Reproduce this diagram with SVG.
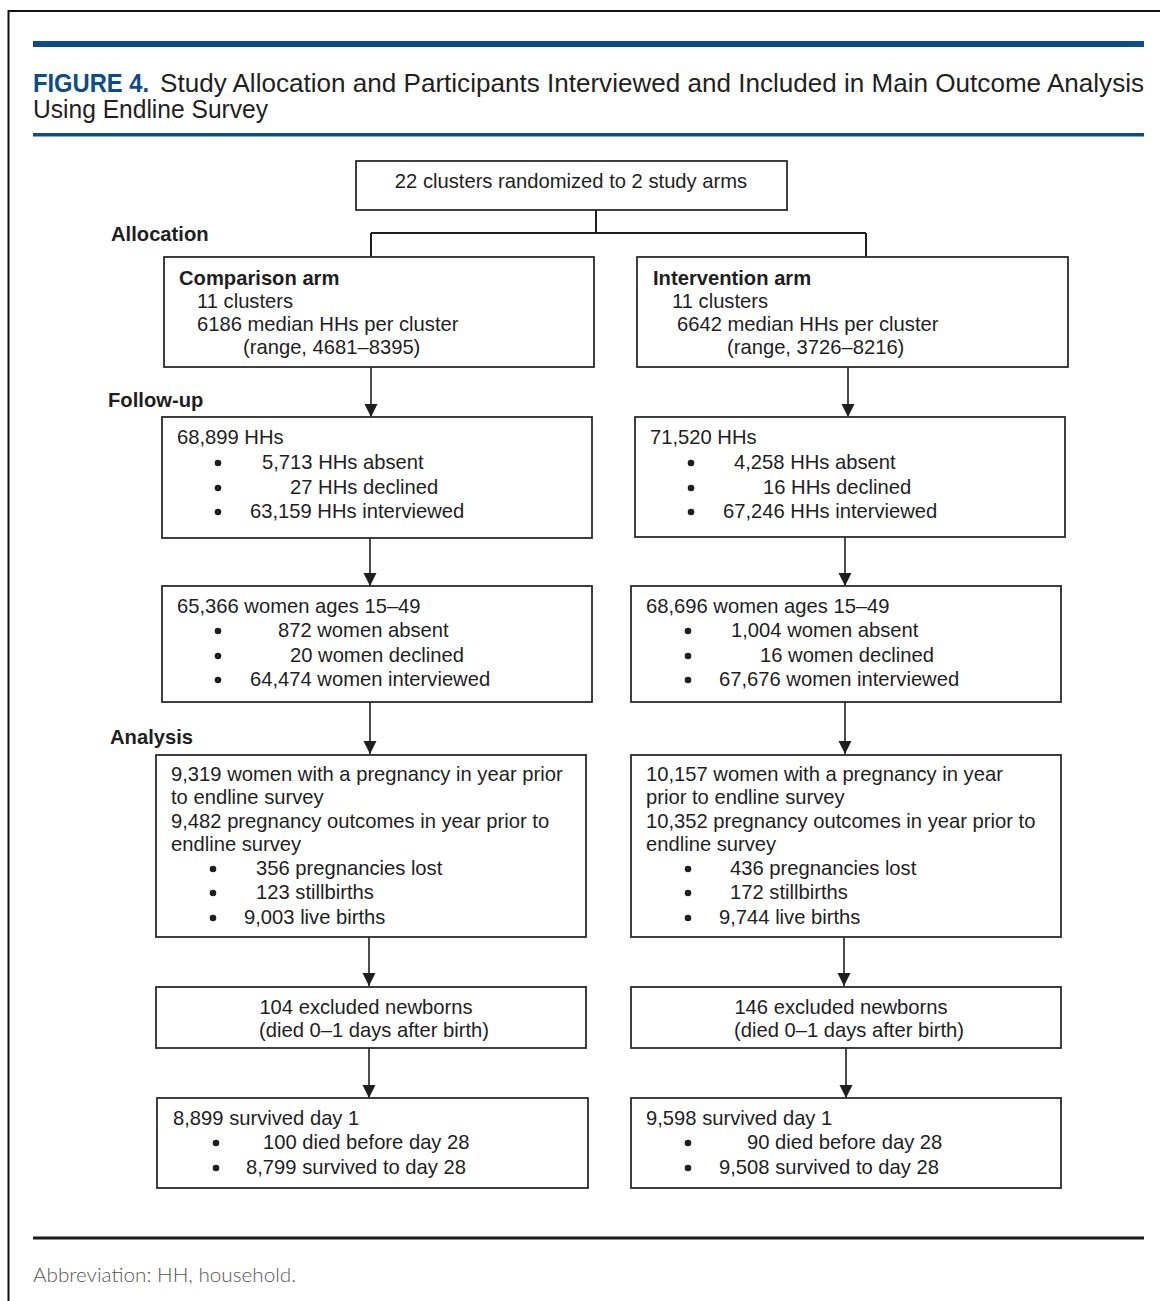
<svg xmlns="http://www.w3.org/2000/svg" width="1160" height="1301" viewBox="0 0 1160 1301">
<style>
.bg{fill:#ffffff}
.box{fill:#ffffff;stroke:#2b2b2b;stroke-width:1.8}
.t{font-family:"Liberation Sans",Arial,sans-serif;font-size:20.2px;fill:#1e1e1e}
.b{font-family:"Liberation Sans",Arial,sans-serif;font-size:20.2px;font-weight:bold;fill:#1e1e1e}
.ttl{font-family:"Liberation Sans",Arial,sans-serif;font-size:25px;fill:#231f20}
.fig{font-family:"Liberation Sans",Arial,sans-serif;font-size:25px;font-weight:bold;fill:#0a4c8c}
.abbr{font-family:"Lato","Liberation Sans",sans-serif;font-weight:300;font-size:20px;fill:#555555}
.ln{fill:none;stroke:#1e1e1e;stroke-width:1.6}
.ln2{fill:none;stroke:#1e1e1e;stroke-width:2}
.dot{fill:#1e1e1e}
</style>
<defs>
<marker id="ah" markerUnits="userSpaceOnUse" markerWidth="14" markerHeight="14" refX="13" refY="6.5" orient="auto">
<path d="M0,0 L13,6.5 L0,13 z" fill="#1e1e1e"/>
</marker>
<circle id="bu" r="3.3" class="dot"/>
</defs>
<rect class="bg" x="0" y="0" width="1160" height="1301"/>
<path d="M8.5,1301 L8.5,11 L1160,11" fill="none" stroke="#111" stroke-width="2"/>
<rect x="33" y="41" width="1111" height="6" fill="#0a4c8c"/>
<rect x="33" y="133" width="1111" height="3.5" fill="#0a4c8c"/>
<rect x="33" y="1236.5" width="1111" height="3" fill="#1a1a1a"/>
<text class="fig" x="33" y="92" textLength="116" lengthAdjust="spacingAndGlyphs">FIGURE 4.</text>
<text class="ttl" x="160" y="92" textLength="984" lengthAdjust="spacingAndGlyphs">Study Allocation and Participants Interviewed and Included in Main Outcome Analysis</text>
<text class="ttl" x="33" y="118" textLength="235" lengthAdjust="spacingAndGlyphs">Using Endline Survey</text>
<text class="abbr" x="33" y="1282" textLength="263" lengthAdjust="spacingAndGlyphs">Abbreviation: HH, household.</text>

<text class="b" x="111" y="241">Allocation</text>
<text class="b" x="108" y="407">Follow-up</text>
<text class="b" x="110" y="744">Analysis</text>

<g id="connectors">
<path class="ln2" d="M596,210 L596,233 M371,233 L866,233 M371,233 L371,257 M866,233 L866,257"/>
<line class="ln" x1="371" y1="367" x2="371" y2="417" marker-end="url(#ah)"/>
<line class="ln" x1="848" y1="367" x2="848" y2="417" marker-end="url(#ah)"/>
<line class="ln" x1="370" y1="538" x2="370" y2="586" marker-end="url(#ah)"/>
<line class="ln" x1="845" y1="537" x2="845" y2="586" marker-end="url(#ah)"/>
<line class="ln" x1="370" y1="702" x2="370" y2="754" marker-end="url(#ah)"/>
<line class="ln" x1="845" y1="702" x2="845" y2="754" marker-end="url(#ah)"/>
<line class="ln" x1="369" y1="937" x2="369" y2="986" marker-end="url(#ah)"/>
<line class="ln" x1="844" y1="937" x2="844" y2="986" marker-end="url(#ah)"/>
<line class="ln" x1="369" y1="1048" x2="369" y2="1098" marker-end="url(#ah)"/>
<line class="ln" x1="846" y1="1048" x2="846" y2="1098" marker-end="url(#ah)"/>
</g>

<g id="n-random">
<rect class="box" x="356" y="161" width="431" height="49"/>
<text class="t" x="571" y="188" text-anchor="middle">22 clusters randomized to 2 study arms</text>
</g>

<g id="n-comparison">
<rect class="box" x="164" y="257" width="430" height="110"/>
<text class="b" x="179" y="285">Comparison arm</text>
<text class="t" x="197" y="308">11 clusters</text>
<text class="t" x="197" y="331">6186 median HHs per cluster</text>
<text class="t" x="243" y="354">(range, 4681–8395)</text>
</g>

<g id="n-intervention">
<rect class="box" x="637" y="257" width="431" height="110"/>
<text class="b" x="653" y="285">Intervention arm</text>
<text class="t" x="672" y="308">11 clusters</text>
<text class="t" x="677" y="331">6642 median HHs per cluster</text>
<text class="t" x="727" y="354">(range, 3726–8216)</text>
</g>

<g id="n-hh-comp">
<rect class="box" x="162" y="417" width="430" height="121"/>
<text class="t" x="177" y="444">68,899 HHs</text>
<use href="#bu" x="218" y="463"/>
<use href="#bu" x="218" y="488"/>
<use href="#bu" x="218" y="512"/>
<text class="t" x="262" y="469">5,713 HHs absent</text>
<text class="t" x="290" y="494">27 HHs declined</text>
<text class="t" x="250" y="518">63,159 HHs interviewed</text>
</g>

<g id="n-hh-int">
<rect class="box" x="635" y="417" width="430" height="120"/>
<text class="t" x="650" y="444">71,520 HHs</text>
<use href="#bu" x="691" y="463"/>
<use href="#bu" x="691" y="488"/>
<use href="#bu" x="691" y="512"/>
<text class="t" x="734" y="469">4,258 HHs absent</text>
<text class="t" x="763" y="494">16 HHs declined</text>
<text class="t" x="723" y="518">67,246 HHs interviewed</text>
</g>

<g id="n-women-comp">
<rect class="box" x="162" y="586" width="430" height="116"/>
<text class="t" x="177" y="613">65,366 women ages 15–49</text>
<use href="#bu" x="218" y="631"/>
<use href="#bu" x="218" y="656"/>
<use href="#bu" x="218" y="680"/>
<text class="t" x="278" y="637">872 women absent</text>
<text class="t" x="290" y="662">20 women declined</text>
<text class="t" x="250" y="686">64,474 women interviewed</text>
</g>

<g id="n-women-int">
<rect class="box" x="631" y="586" width="430" height="116"/>
<text class="t" x="646" y="613">68,696 women ages 15–49</text>
<use href="#bu" x="688" y="631"/>
<use href="#bu" x="688" y="656"/>
<use href="#bu" x="688" y="680"/>
<text class="t" x="731" y="637">1,004 women absent</text>
<text class="t" x="760" y="662">16 women declined</text>
<text class="t" x="719" y="686">67,676 women interviewed</text>
</g>

<g id="n-preg-comp">
<rect class="box" x="156" y="755" width="430" height="182"/>
<text class="t" x="171" y="781">9,319 women with a pregnancy in year prior</text>
<text class="t" x="171" y="804">to endline survey</text>
<text class="t" x="171" y="828">9,482 pregnancy outcomes in year prior to</text>
<text class="t" x="171" y="851">endline survey</text>
<use href="#bu" x="213" y="869"/>
<use href="#bu" x="213" y="893"/>
<use href="#bu" x="213" y="918"/>
<text class="t" x="256" y="875">356 pregnancies lost</text>
<text class="t" x="256" y="899">123 stillbirths</text>
<text class="t" x="244" y="924">9,003 live births</text>
</g>

<g id="n-preg-int">
<rect class="box" x="631" y="755" width="430" height="182"/>
<text class="t" x="646" y="781">10,157 women with a pregnancy in year</text>
<text class="t" x="646" y="804">prior to endline survey</text>
<text class="t" x="646" y="828">10,352 pregnancy outcomes in year prior to</text>
<text class="t" x="646" y="851">endline survey</text>
<use href="#bu" x="688" y="869"/>
<use href="#bu" x="688" y="893"/>
<use href="#bu" x="688" y="918"/>
<text class="t" x="730" y="875">436 pregnancies lost</text>
<text class="t" x="730" y="899">172 stillbirths</text>
<text class="t" x="719" y="924">9,744 live births</text>
</g>

<g id="n-excl-comp">
<rect class="box" x="156" y="987" width="430" height="61"/>
<text class="t" x="366" y="1014" text-anchor="middle">104 excluded newborns</text>
<text class="t" x="374" y="1037" text-anchor="middle">(died 0–1 days after birth)</text>
</g>

<g id="n-excl-int">
<rect class="box" x="631" y="987" width="430" height="61"/>
<text class="t" x="841" y="1014" text-anchor="middle">146 excluded newborns</text>
<text class="t" x="849" y="1037" text-anchor="middle">(died 0–1 days after birth)</text>
</g>

<g id="n-surv-comp">
<rect class="box" x="157" y="1098" width="431" height="90"/>
<text class="t" x="173" y="1125">8,899 survived day 1</text>
<use href="#bu" x="216" y="1143"/>
<use href="#bu" x="216" y="1168"/>
<text class="t" x="263" y="1149">100 died before day 28</text>
<text class="t" x="246" y="1174">8,799 survived to day 28</text>
</g>

<g id="n-surv-int">
<rect class="box" x="631" y="1098" width="430" height="90"/>
<text class="t" x="646" y="1125">9,598 survived day 1</text>
<use href="#bu" x="688" y="1143"/>
<use href="#bu" x="688" y="1168"/>
<text class="t" x="747" y="1149">90 died before day 28</text>
<text class="t" x="719" y="1174">9,508 survived to day 28</text>
</g>
</svg>
